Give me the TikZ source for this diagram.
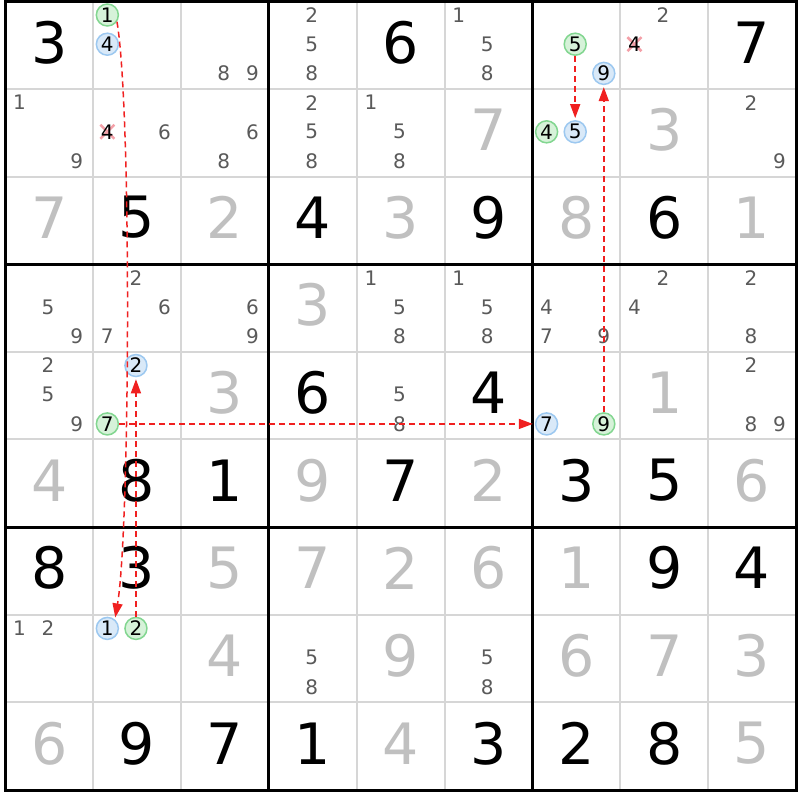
\documentclass[tikz,border=0pt]{standalone}
\usepackage{fontspec}
\setmainfont{DejaVu Sans}
\usetikzlibrary{arrows.meta}
\definecolor{solved}{HTML}{C0C0C0}
\definecolor{candc}{HTML}{5A5A5A}
\definecolor{gfill}{HTML}{D6F2D9}
\definecolor{gline}{HTML}{82D690}
\definecolor{bfill}{HTML}{D9E9F8}
\definecolor{bline}{HTML}{9CC8F0}
\definecolor{xcol}{HTML}{F4A0A8}
\definecolor{gridc}{HTML}{D6D6D6}
\definecolor{arr}{HTML}{F02020}
\newcommand\ccand[5]{%
  \pgfmathsetmacro\px{5.3+(#2-1)*87.85+14.2+28.6*mod(#4-1,3)}%
  \pgfmathsetmacro\py{1.3+(#3-1)*87.63+13.7+29.2*div(#4-1,3)}%
  \node[#5] (#1) at (\px,\py) {#4};}
\newcommand\xcand[4]{%
  \pgfmathsetmacro\px{5.3+(#2-1)*87.85+14.2+28.6*mod(#4-1,3)}%
  \pgfmathsetmacro\py{1.3+(#3-1)*87.63+13.7+29.2*div(#4-1,3)}%
  \coordinate (#1c) at (\px,\py);
  \draw[xmark] ([shift={(-7,-7)}]#1c) -- ([shift={(7,7)}]#1c);
  \draw[xmark] ([shift={(-7,7)}]#1c) -- ([shift={(7,-7)}]#1c);
  \node[xcandd] (#1) at (#1c) {#4};}
\begin{document}
\begin{tikzpicture}[x=1pt,y=-1pt,
  big/.style={inner sep=0pt, font=\fontsize{57}{57}\selectfont},
  given/.style={big, text=black},
  solvedd/.style={big, text=solved},
  cand/.style={inner sep=0pt, font=\fontsize{20}{20}\selectfont, text=candc},
  xcandd/.style={inner sep=0pt, font=\fontsize{20}{20}\selectfont, text=black},
  xmark/.style={draw=xcol, line width=2.5pt},
  gc/.style={circle, minimum size=22pt, inner sep=0pt, draw=gline, fill=gfill, line width=1.5pt, font=\fontsize{20}{20}\selectfont, text=black},
  bc/.style={gc, draw=bline, fill=bfill},
  thin grid/.style={draw=gridc, line width=2pt},
  thick grid/.style={draw=black, line width=3pt},
  link/.style={draw=arr, line width=1.5pt, dash pattern=on 6pt off 4pt, -{Triangle[length=14pt,width=10pt]}, shorten >=2pt},
]
\useasboundingbox (0,0) rectangle (800,800);
\fill[white] (0,0) rectangle (800,800);
% grid
\foreach \i in {1,...,8} {
  \draw[thin grid] ({5.3+\i*87.85},1.3) -- ({5.3+\i*87.85},790);
  \draw[thin grid] (5.3,{1.3+\i*87.63}) -- (796,{1.3+\i*87.63});
}
\foreach \i in {3,6} {
  \draw[thick grid] ({5.3+\i*87.85},1.3) -- ({5.3+\i*87.85},790);
  \draw[thick grid] (5.3,{1.3+\i*87.63}) -- (796,{1.3+\i*87.63});
}
\draw[thick grid] (5.3,1.3) rectangle (796,790);
% given digits
\foreach \r/\c/\d in {1/1/3,1/5/6,1/9/7,3/2/5,3/4/4,3/6/9,3/8/6,5/4/6,5/6/4,
  6/2/8,6/3/1,6/5/7,6/7/3,6/8/5,7/1/8,7/2/3,7/8/9,7/9/4,
  9/2/9,9/3/7,9/4/1,9/6/3,9/7/2,9/8/8}
  \node[given] (v-\r-\c) at ({5.3+(\c-1)*87.85+43.9},{1.3+(\r-1)*87.63+41}) {\d};
% solved digits
\foreach \r/\c/\d in {2/6/7,2/8/3,3/1/7,3/3/2,3/5/3,3/7/8,3/9/1,4/4/3,5/3/3,5/8/1,
  6/1/4,6/4/9,6/6/2,6/9/6,7/3/5,7/4/7,7/5/2,7/6/6,7/7/1,
  8/3/4,8/5/9,8/7/6,8/8/7,8/9/3,9/1/6,9/5/4,9/9/5}
  \node[solvedd] (v-\r-\c) at ({5.3+(\c-1)*87.85+43.9},{1.3+(\r-1)*87.63+41}) {\d};
% candidates
\foreach \r/\c/\d in {1/3/8,1/3/9,1/4/2,1/4/5,1/4/8,1/6/1,1/6/5,1/6/8,1/8/2,
  2/1/1,2/1/9,2/2/6,2/3/6,2/3/8,2/4/2,2/4/5,2/4/8,2/5/1,2/5/5,2/5/8,2/9/2,2/9/9,
  4/1/5,4/1/9,4/2/2,4/2/6,4/2/7,4/3/6,4/3/9,4/5/1,4/5/5,4/5/8,4/6/1,4/6/5,4/6/8,
  4/7/4,4/7/7,4/7/9,4/8/2,4/8/4,4/9/2,4/9/8,
  5/1/2,5/1/5,5/1/9,5/5/5,5/5/8,5/9/2,5/9/8,5/9/9,
  8/1/1,8/1/2,8/4/5,8/4/8,8/6/5,8/6/8}
  \node[cand] (k-\r-\c-\d) at ({5.3+(\c-1)*87.85+14.2+28.6*mod(\d-1,3)},{1.3+(\r-1)*87.63+13.7+29.2*div(\d-1,3)}) {\d};
% eliminated candidates
\xcand{xa}{8}{1}{4}
\xcand{xb}{2}{2}{4}
% circled candidates  (name, col, row, digit, style)
\ccand{g1}{2}{1}{1}{gc}
\ccand{b4}{2}{1}{4}{bc}
\ccand{g5}{7}{1}{5}{gc}
\ccand{b9}{7}{1}{9}{bc}
\ccand{g4}{7}{2}{4}{gc}
\ccand{b5}{7}{2}{5}{bc}
\ccand{b2}{2}{5}{2}{bc}
\ccand{g7}{2}{5}{7}{gc}
\ccand{b7}{7}{5}{7}{bc}
\ccand{g9}{7}{5}{9}{gc}
\ccand{b1}{2}{8}{1}{bc}
\ccand{g2}{2}{8}{2}{gc}
% links
\draw[link] (g1.-35) .. controls +(15,88) and +(15,-88) .. (b1.50);
\draw[link] (g2) -- (b2);
\draw[link] (g7) -- (b7);
\draw[link] (g9) -- (b9);
\draw[link] (g5) -- (b5);
\end{tikzpicture}
\end{document}
